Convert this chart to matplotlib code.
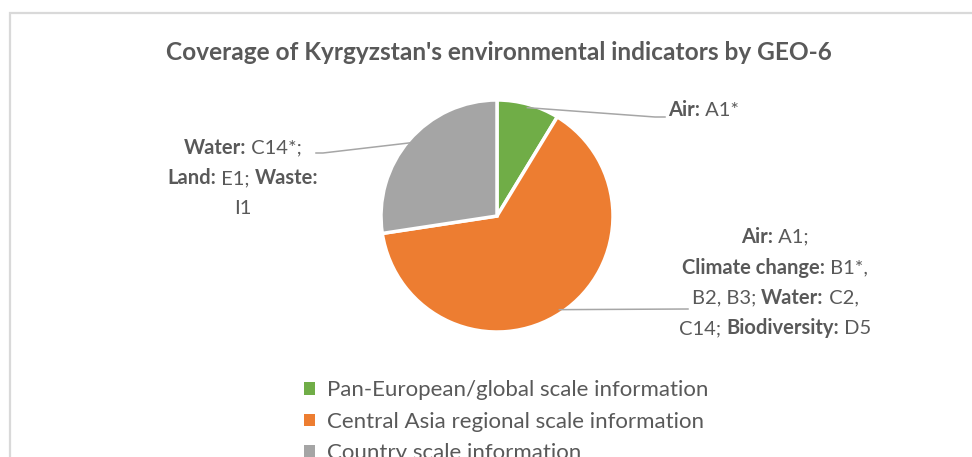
import numpy as np
import matplotlib; matplotlib.use("Agg")
import matplotlib.pyplot as plt
from matplotlib.patches import Patch, Rectangle
from matplotlib.lines import Line2D

plt.rcParams["font.family"] = ["Lato", "DejaVu Sans"]

W, H = 972, 457
TXT = "#595959"

title = "Coverage of Kyrgyzstan's environmental indicators by GEO-6"
categories = ["Pan-European/global scale information",
              "Central Asia regional scale information",
              "Country scale information"]
shares = [8.7, 63.9, 27.4]
colors = ["#70AD47", "#ED7D31", "#A5A5A5"]

# data labels: lines of (text, bold) runs
label_green = [[("Air:", True), (" A1*", False)]]
label_orange = [[("Air:", True), (" A1;", False)],
                [("Climate change:", True), (" B1*,", False)],
                [("B2, B3; ", False), ("Water:", True), (" C2,", False)],
                [("C14; ", False), ("Biodiversity:", True), (" D5", False)]]
label_gray = [[("Water:", True), (" C14*;", False)],
              [("Land:", True), (" E1; ", False), ("Waste:", True)],
              [("I1", False)]]
slice_labels = [label_green, label_orange, label_gray]

# layout (pixels from top-left): label anchor, alignment, leader end points
label_pos = [(668, 110, "left"), (775, 237, "center"), (243, 148, "center")]
leader_ends = [[(655, 117), (665, 117)],
               [(688, 309)],
               [(323, 153), (316, 153)]]

fig = plt.figure(figsize=(W / 100, H / 100), dpi=100)
renderer = fig.canvas.get_renderer()


def fx(x):
    return x / W


def fy(y):
    return 1 - y / H


def run_width(s, bold, size):
    wt = "bold" if bold else "normal"
    t = fig.text(0, 0, "|" + s + "|", fontsize=size, fontweight=wt)
    b = fig.text(0, 0, "||", fontsize=size, fontweight=wt)
    w = t.get_window_extent(renderer).width - b.get_window_extent(renderer).width
    t.remove()
    b.remove()
    return w


def rich_text(lines, x, y, align, size=14.5, spacing=30.5):
    for i, runs in enumerate(lines):
        widths = [run_width(s, b, size) for s, b in runs]
        total = sum(widths)
        cur = x - total / 2 if align == "center" else x
        for (s, b), w in zip(runs, widths):
            fig.text(fx(cur), fy(y + i * spacing), s,
                     fontsize=size, fontweight="bold" if b else "normal",
                     color=TXT, ha="left", va="center")
            cur += w


# chart frame
fig.add_artist(Rectangle((fx(9.5), -0.1), 1.2, fy(13.5) + 0.1,
                         transform=fig.transFigure, fill=False,
                         edgecolor="#D9D9D9", lw=1.6))

fig.text(fx(499), fy(52), title, ha="center", va="center",
         fontsize=17.6, fontweight="bold", color=TXT)

cx, cy, r = 497, 216, 116
ax = fig.add_axes([fx(cx - r), fy(cy + r), 2 * r / W, 2 * r / H])
wedges, _ = ax.pie(shares, colors=colors, startangle=90, counterclock=False,
                   wedgeprops=dict(edgecolor="white", linewidth=2.5))
ax.set_xlim(-1, 1)
ax.set_ylim(-1, 1)

to_fig = fig.transFigure.inverted()
for w, lines, (lx, ly, al), ends in zip(wedges, slice_labels, label_pos, leader_ends):
    th = np.deg2rad((w.theta1 + w.theta2) / 2)
    p0 = to_fig.transform(ax.transData.transform((0.97 * np.cos(th), 0.97 * np.sin(th))))
    xs = [p0[0]] + [fx(e[0]) for e in ends]
    ys = [p0[1]] + [fy(e[1]) for e in ends]
    fig.add_artist(Line2D(xs, ys, transform=fig.transFigure,
                          color="#A6A6A6", lw=1.1))
    rich_text(lines, lx, ly, al)

# legend runs off the bottom edge, as in the cropped original
handles = [Patch(facecolor=c, edgecolor="none") for c in colors]
fig.legend(handles, categories, loc="upper left",
           bbox_to_anchor=(fx(304), fy(380.5)), frameon=False,
           fontsize=16, handlelength=0.48, handleheight=0.48,
           handletextpad=0.55, labelspacing=0.5, borderpad=0,
           borderaxespad=0, labelcolor=TXT)

fig.savefig("out.png", dpi=100)
